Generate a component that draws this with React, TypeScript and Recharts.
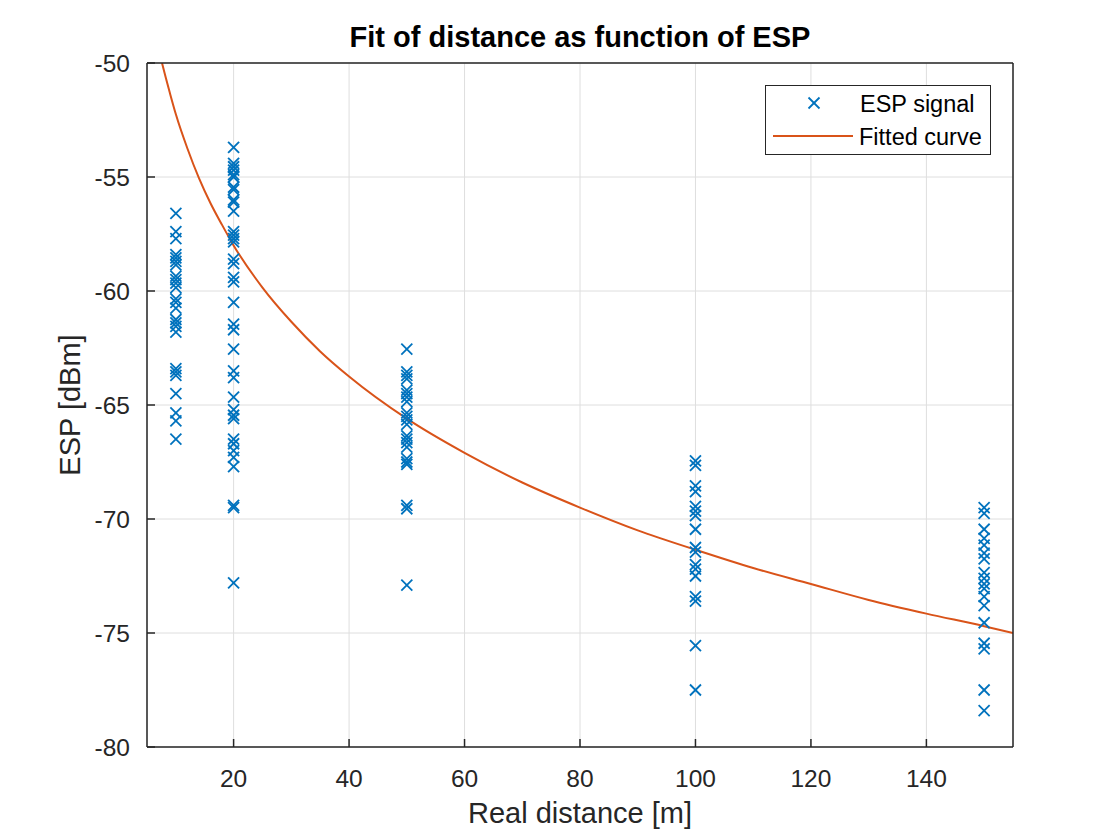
import React from 'react';
import { ComposedChart, Scatter, Line, XAxis, YAxis, CartesianGrid } from 'recharts';

// measured distances [m]
const distances = [10, 20, 50, 100, 150];

// ESP readings [dBm] at each distance
const esp10 = [
  -56.6, -57.4, -57.7, -58.4, -58.55, -58.7, -58.85, -59.35, -59.5, -59.65, -59.85,
  -60.35, -60.5, -60.75, -61.25, -61.4, -61.55, -61.8, -63.4, -63.55, -63.7, -64.5,
  -65.35, -65.7, -66.5,
];
const esp20 = [
  -53.7, -54.4, -54.55, -54.7, -54.9, -55.0, -55.45, -55.55, -56.0, -56.1, -56.5,
  -57.4, -57.55, -57.7, -57.85, -58.6, -58.8, -59.4, -59.6, -60.5, -61.45, -61.7,
  -62.55, -63.5, -63.8, -64.65, -65.2, -65.45, -65.6, -66.5, -66.7, -67.0, -67.3,
  -67.7, -69.4, -69.5, -72.8,
];
const esp50 = [
  -62.55, -63.55, -63.7, -63.85, -64.35, -64.5, -64.65, -64.85, -65.35, -65.5,
  -65.65, -65.85, -66.35, -66.5, -66.65, -66.85, -67.35, -67.5, -67.6, -69.4,
  -69.55, -72.9,
];
const esp100 = [
  -67.45, -67.65, -68.55, -68.8, -69.45, -69.65, -69.85, -70.45, -71.25, -71.45,
  -72.0, -72.2, -72.5, -73.4, -73.6, -75.55, -77.5,
];
const esp150 = [
  -69.5, -69.75, -70.45, -70.85, -71.15, -71.5, -71.75, -72.35, -72.6, -72.85,
  -73.05, -73.4, -73.8, -74.55, -75.45, -75.7, -77.5, -78.4,
];

// fitted curve
const curveX = [7.6, 8, 9, 10, 12, 14, 16, 18, 20, 25, 30, 35, 40, 50, 60, 70, 80, 90, 100, 110, 120, 130, 140, 150, 155];
const curveY = [
  -50.0, -50.4, -51.35, -52.25, -53.75, -55.05, -56.15, -57.1, -58.0, -59.85, -61.35,
  -62.65, -63.75, -65.6, -67.1, -68.4, -69.5, -70.5, -71.35, -72.15, -72.85, -73.55,
  -74.15, -74.7, -75.0,
];

const xTicks = [20, 40, 60, 80, 100, 120, 140];
const yTicks = [-80, -75, -70, -65, -60, -55, -50];

const FONT = '"Liberation Sans", Arial, Helvetica, sans-serif';
const BLUE = '#0072BD';
const ORANGE = '#D95319';
const AXIS = '#262626';
const GRID = '#dedede';

const signal = [esp10, esp20, esp50, esp100, esp150].flatMap((vals, i) =>
  vals.map(y => ({ x: distances[i], y }))
);
const fitted = curveX.map((x, i) => ({ x, y: curveY[i] }));

const Cross = (props: any) => {
  const { cx, cy } = props;
  const r = 5.5;
  return (
    <g stroke={BLUE} strokeWidth={1.8}>
      <line x1={cx - r} y1={cy - r} x2={cx + r} y2={cy + r} />
      <line x1={cx - r} y1={cy + r} x2={cx + r} y2={cy - r} />
    </g>
  );
};

const tickStyle = { fontSize: 24.5, fill: AXIS, fontFamily: FONT };
const axisLine = { stroke: AXIS, strokeWidth: 1.5 };

const App = () => {
  return (
    <div style={{ position: 'absolute', left: 0, top: 0, width: 1120, height: 840, background: '#fff', fontFamily: FONT }}>
      <ComposedChart width={1120} height={840} margin={{ top: 62, right: 106, bottom: 0, left: 0 }}>
        <CartesianGrid stroke={GRID} strokeWidth={1} />
        <XAxis
          type="number"
          dataKey="x"
          domain={[5, 155]}
          ticks={xTicks}
          allowDataOverflow
          height={93}
          tickSize={-8}
          tickMargin={31}
          tick={tickStyle}
          axisLine={axisLine}
          tickLine={axisLine}
          label={{ value: 'Real distance [m]', position: 'insideBottom', offset: 17, style: { fontSize: 29, fill: AXIS, fontFamily: FONT } }}
        />
        <XAxis
          xAxisId="top"
          orientation="top"
          type="number"
          domain={[5, 155]}
          ticks={xTicks}
          allowDataOverflow
          height={1}
          tickSize={-8}
          tick={false}
          axisLine={axisLine}
          tickLine={axisLine}
          label={{ value: 'Fit of distance as function of ESP', position: 'top', offset: 15, style: { fontSize: 29, fontWeight: 'bold', fill: '#000', fontFamily: FONT } }}
        />
        <YAxis
          type="number"
          dataKey="y"
          domain={[-80, -50]}
          ticks={yTicks}
          allowDataOverflow
          width={147}
          tickSize={-8}
          tickMargin={25}
          tick={tickStyle}
          axisLine={axisLine}
          tickLine={axisLine}
          label={{ value: 'ESP [dBm]', angle: -90, position: 'insideLeft', offset: 70, style: { textAnchor: 'middle', fontSize: 29, fill: AXIS, fontFamily: FONT } }}
        />
        <YAxis
          yAxisId="right"
          orientation="right"
          type="number"
          domain={[-80, -50]}
          ticks={yTicks}
          allowDataOverflow
          width={1}
          tickSize={-8}
          tick={false}
          axisLine={axisLine}
          tickLine={axisLine}
        />
        <Scatter name="ESP signal" data={signal} shape={<Cross />} isAnimationActive={false} />
        <Line
          name="Fitted curve"
          data={fitted}
          dataKey="y"
          type="monotone"
          stroke={ORANGE}
          strokeWidth={2}
          dot={false}
          activeDot={false}
          isAnimationActive={false}
        />
      </ComposedChart>
      <div
        style={{
          position: 'absolute',
          left: 765,
          top: 85,
          width: 226,
          height: 70,
          boxSizing: 'border-box',
          border: `1.5px solid ${AXIS}`,
          background: '#fff',
        }}
      >
        <svg width={223} height={67} style={{ display: 'block' }}>
          <g transform="translate(48,17)" stroke={BLUE} strokeWidth={1.8}>
            <line x1={-5.5} y1={-5.5} x2={5.5} y2={5.5} />
            <line x1={-5.5} y1={5.5} x2={5.5} y2={-5.5} />
          </g>
          <text x={94} y={26} fontSize={23.5} fill="#000" fontFamily={FONT}>ESP signal</text>
          <line x1={7} y1={50} x2={87} y2={50} stroke={ORANGE} strokeWidth={2} />
          <text x={93} y={59} fontSize={23.5} fill="#000" fontFamily={FONT}>Fitted curve</text>
        </svg>
      </div>
    </div>
  );
};

export default App;
